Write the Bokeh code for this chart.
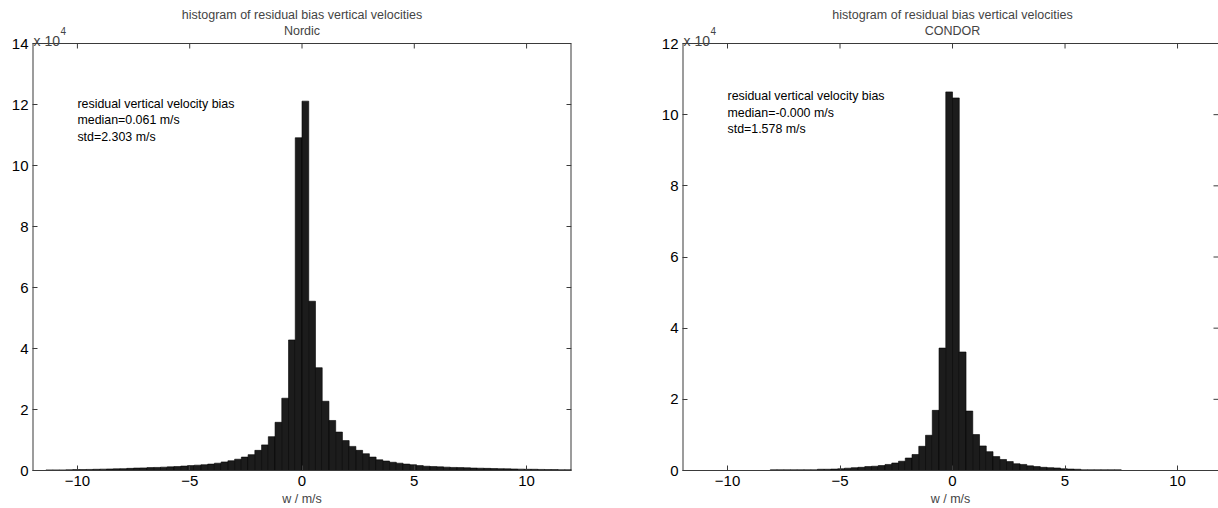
import numpy as np
from bokeh.plotting import figure
from bokeh.models import Range1d, FixedTicker, Label
from bokeh.layouts import row
from bokeh.embed import file_html
from bokeh.resources import INLINE
from bokeh.core.properties import value

FONT = "Liberation Sans"

# ---------------- data (counts in units of 1e4) ----------------
bin_width = 0.3

nordic_centers = np.round(np.arange(-11.25, 11.86, 0.3), 2)
nordic_counts = [
    0.02, 0.02, 0.02, 0.025, 0.03, 0.03, 0.035, 0.04, 0.045, 0.05,
    0.055, 0.06, 0.07, 0.08, 0.085, 0.095, 0.10, 0.11, 0.12, 0.13,
    0.145, 0.16, 0.175, 0.19, 0.21, 0.24, 0.28, 0.32, 0.37, 0.44,
    0.52, 0.66, 0.84, 1.11, 1.58, 2.37, 4.28, 10.91,
    12.11, 5.55, 3.37, 2.27, 1.64, 1.26, 0.98, 0.79, 0.66, 0.55,
    0.44, 0.35, 0.31, 0.27, 0.24, 0.21, 0.19, 0.16, 0.14, 0.13,
    0.12, 0.11, 0.10, 0.095, 0.09, 0.08, 0.075, 0.07, 0.065, 0.06,
    0.055, 0.05, 0.045, 0.04, 0.04, 0.035, 0.03, 0.03, 0.025, 0.025,
]

condor_centers = np.round(np.arange(-7.95, 7.36, 0.3), 2)
condor_counts = [
    0.02, 0.02, 0.02, 0.02, 0.02, 0.02, 0.02, 0.035, 0.035, 0.04,
    0.05, 0.065, 0.08, 0.09, 0.11, 0.12, 0.14, 0.17, 0.21, 0.26,
    0.35, 0.45, 0.68, 0.99, 1.69, 3.44, 10.64,
    10.47, 3.33, 1.67, 1.01, 0.69, 0.53, 0.39, 0.31, 0.25, 0.19,
    0.17, 0.13, 0.11, 0.09, 0.08, 0.07, 0.05, 0.04, 0.035, 0.02,
    0.02, 0.02, 0.02, 0.02, 0.02,
]

x_ticks = [-10, -5, 0, 5, 10]
nordic_y_ticks = [0, 2, 4, 6, 8, 10, 12, 14]
condor_y_ticks = [0, 2, 4, 6, 8, 10, 12]

title_main = "histogram of residual bias vertical velocities"
nordic_sub = "Nordic"
condor_sub = "CONDOR"
x_label = "w / m/s"
nordic_text = ["residual vertical velocity bias", "median=0.061 m/s", "std=2.303 m/s"]
condor_text = ["residual vertical velocity bias", "median=-0.000 m/s", "std=1.578 m/s"]
nordic_text_y = [12.02, 11.48, 10.95]
condor_text_y = [10.52, 10.06, 9.60]

AX_COL = "#3a3a3a"
FIG_H = 508
BORDER_BOTTOM = 38
BOX_TOP_PX = 43          # distance of the axes box top from the canvas top
TICK_LEN = 5


def style_axis(ax, ticks):
    ax.ticker = FixedTicker(ticks=ticks)
    ax.major_tick_in = TICK_LEN
    ax.major_tick_out = 0
    ax.minor_tick_line_color = None
    ax.major_tick_line_color = AX_COL
    ax.major_label_text_font = FONT
    ax.major_label_text_color = "black"
    ax.major_label_text_font_size = "15px"
    ax.major_label_standoff = 4


def make_panel(centers, counts, ymax, yticks, x_end, sub, lines, lines_y,
               width, border_left, border_right, right_edge=True):
    frame_h = FIG_H - BORDER_BOTTOM
    frame_w = width - border_left - border_right
    y_end = ymax * frame_h / (frame_h - BOX_TOP_PX)
    px_per_y = (frame_h - BOX_TOP_PX) / ymax
    px_per_x = frame_w / (x_end + 12)

    p = figure(width=width, height=FIG_H, x_range=Range1d(-12, x_end),
               y_range=Range1d(0, y_end), output_backend="svg",
               toolbar_location=None, min_border_left=border_left,
               min_border_right=border_right, min_border_top=0,
               min_border_bottom=BORDER_BOTTOM, title=None)
    p.xgrid.visible = False
    p.ygrid.visible = False
    p.outline_line_color = None
    p.background_fill_color = "white"
    p.border_fill_color = "white"

    xa = p.xaxis[0]
    style_axis(xa, x_ticks)
    xa.major_label_standoff = 5
    xa.axis_line_color = AX_COL
    xa.axis_label = x_label
    xa.axis_label_text_font = FONT
    xa.axis_label_text_font_size = "12.5px"
    xa.axis_label_text_font_style = "normal"
    xa.axis_label_standoff = 3

    style_axis(p.yaxis[0], yticks)
    p.yaxis[0].axis_line_color = None

    # axes box (left, top, and right edge when visible)
    p.segment(x0=[-12], y0=[0], x1=[-12], y1=[ymax], line_color=AX_COL, line_width=2)
    p.segment(x0=[-12], y0=[ymax], x1=[x_end], y1=[ymax], line_color=AX_COL, line_width=1)
    if right_edge:
        p.segment(x0=[x_end], y0=[0], x1=[x_end], y1=[ymax], line_color=AX_COL, line_width=2)
    # inward ticks on the box top and right side
    tly = TICK_LEN / px_per_y
    tlx = TICK_LEN / px_per_x
    p.segment(x0=x_ticks, y0=[ymax] * len(x_ticks), x1=x_ticks,
              y1=[ymax - tly] * len(x_ticks), line_color=AX_COL, line_width=1)
    p.segment(x0=[x_end - tlx] * len(yticks), y0=yticks, x1=[x_end] * len(yticks),
              y1=yticks, line_color=AX_COL, line_width=1)

    p.vbar(x=centers, width=bin_width, top=counts, bottom=0,
           fill_color="#1c1c1c", line_color="#000000", line_width=0.6)

    p.text(x=[-10] * len(lines), y=lines_y, text=lines,
           text_font=value(FONT), text_font_size="12.4px",
           text_baseline="middle", text_align="left", text_color="black")

    # titles
    p.add_layout(Label(x=0, y=ymax, y_offset=29, text=title_main,
                       text_align="center", text_baseline="middle",
                       text_font=FONT, text_font_size="12.5px"))
    p.add_layout(Label(x=0, y=ymax, y_offset=13, text=sub,
                       text_align="center", text_baseline="middle",
                       text_font=FONT, text_font_size="12.5px"))
    # exponent marker
    p.add_layout(Label(x=-12, y=ymax, x_offset=1, y_offset=3, text="x 10",
                       text_align="left", text_baseline="alphabetic",
                       text_font=FONT, text_font_size="14px"))
    p.add_layout(Label(x=-12, y=ymax, x_offset=28, y_offset=13, text="4",
                       text_align="left", text_baseline="alphabetic",
                       text_font=FONT, text_font_size="10px"))
    return p


p1 = make_panel(nordic_centers, nordic_counts, 14, nordic_y_ticks, 12,
                nordic_sub, nordic_text, nordic_text_y,
                width=640, border_left=32, border_right=69)
p2 = make_panel(condor_centers, condor_counts, 12, condor_y_ticks, 11.82,
                condor_sub, condor_text, condor_text_y,
                width=578, border_left=42, border_right=0, right_edge=False)

layout = row(p1, p2)
open("out.html", "w").write(file_html(layout, INLINE))
